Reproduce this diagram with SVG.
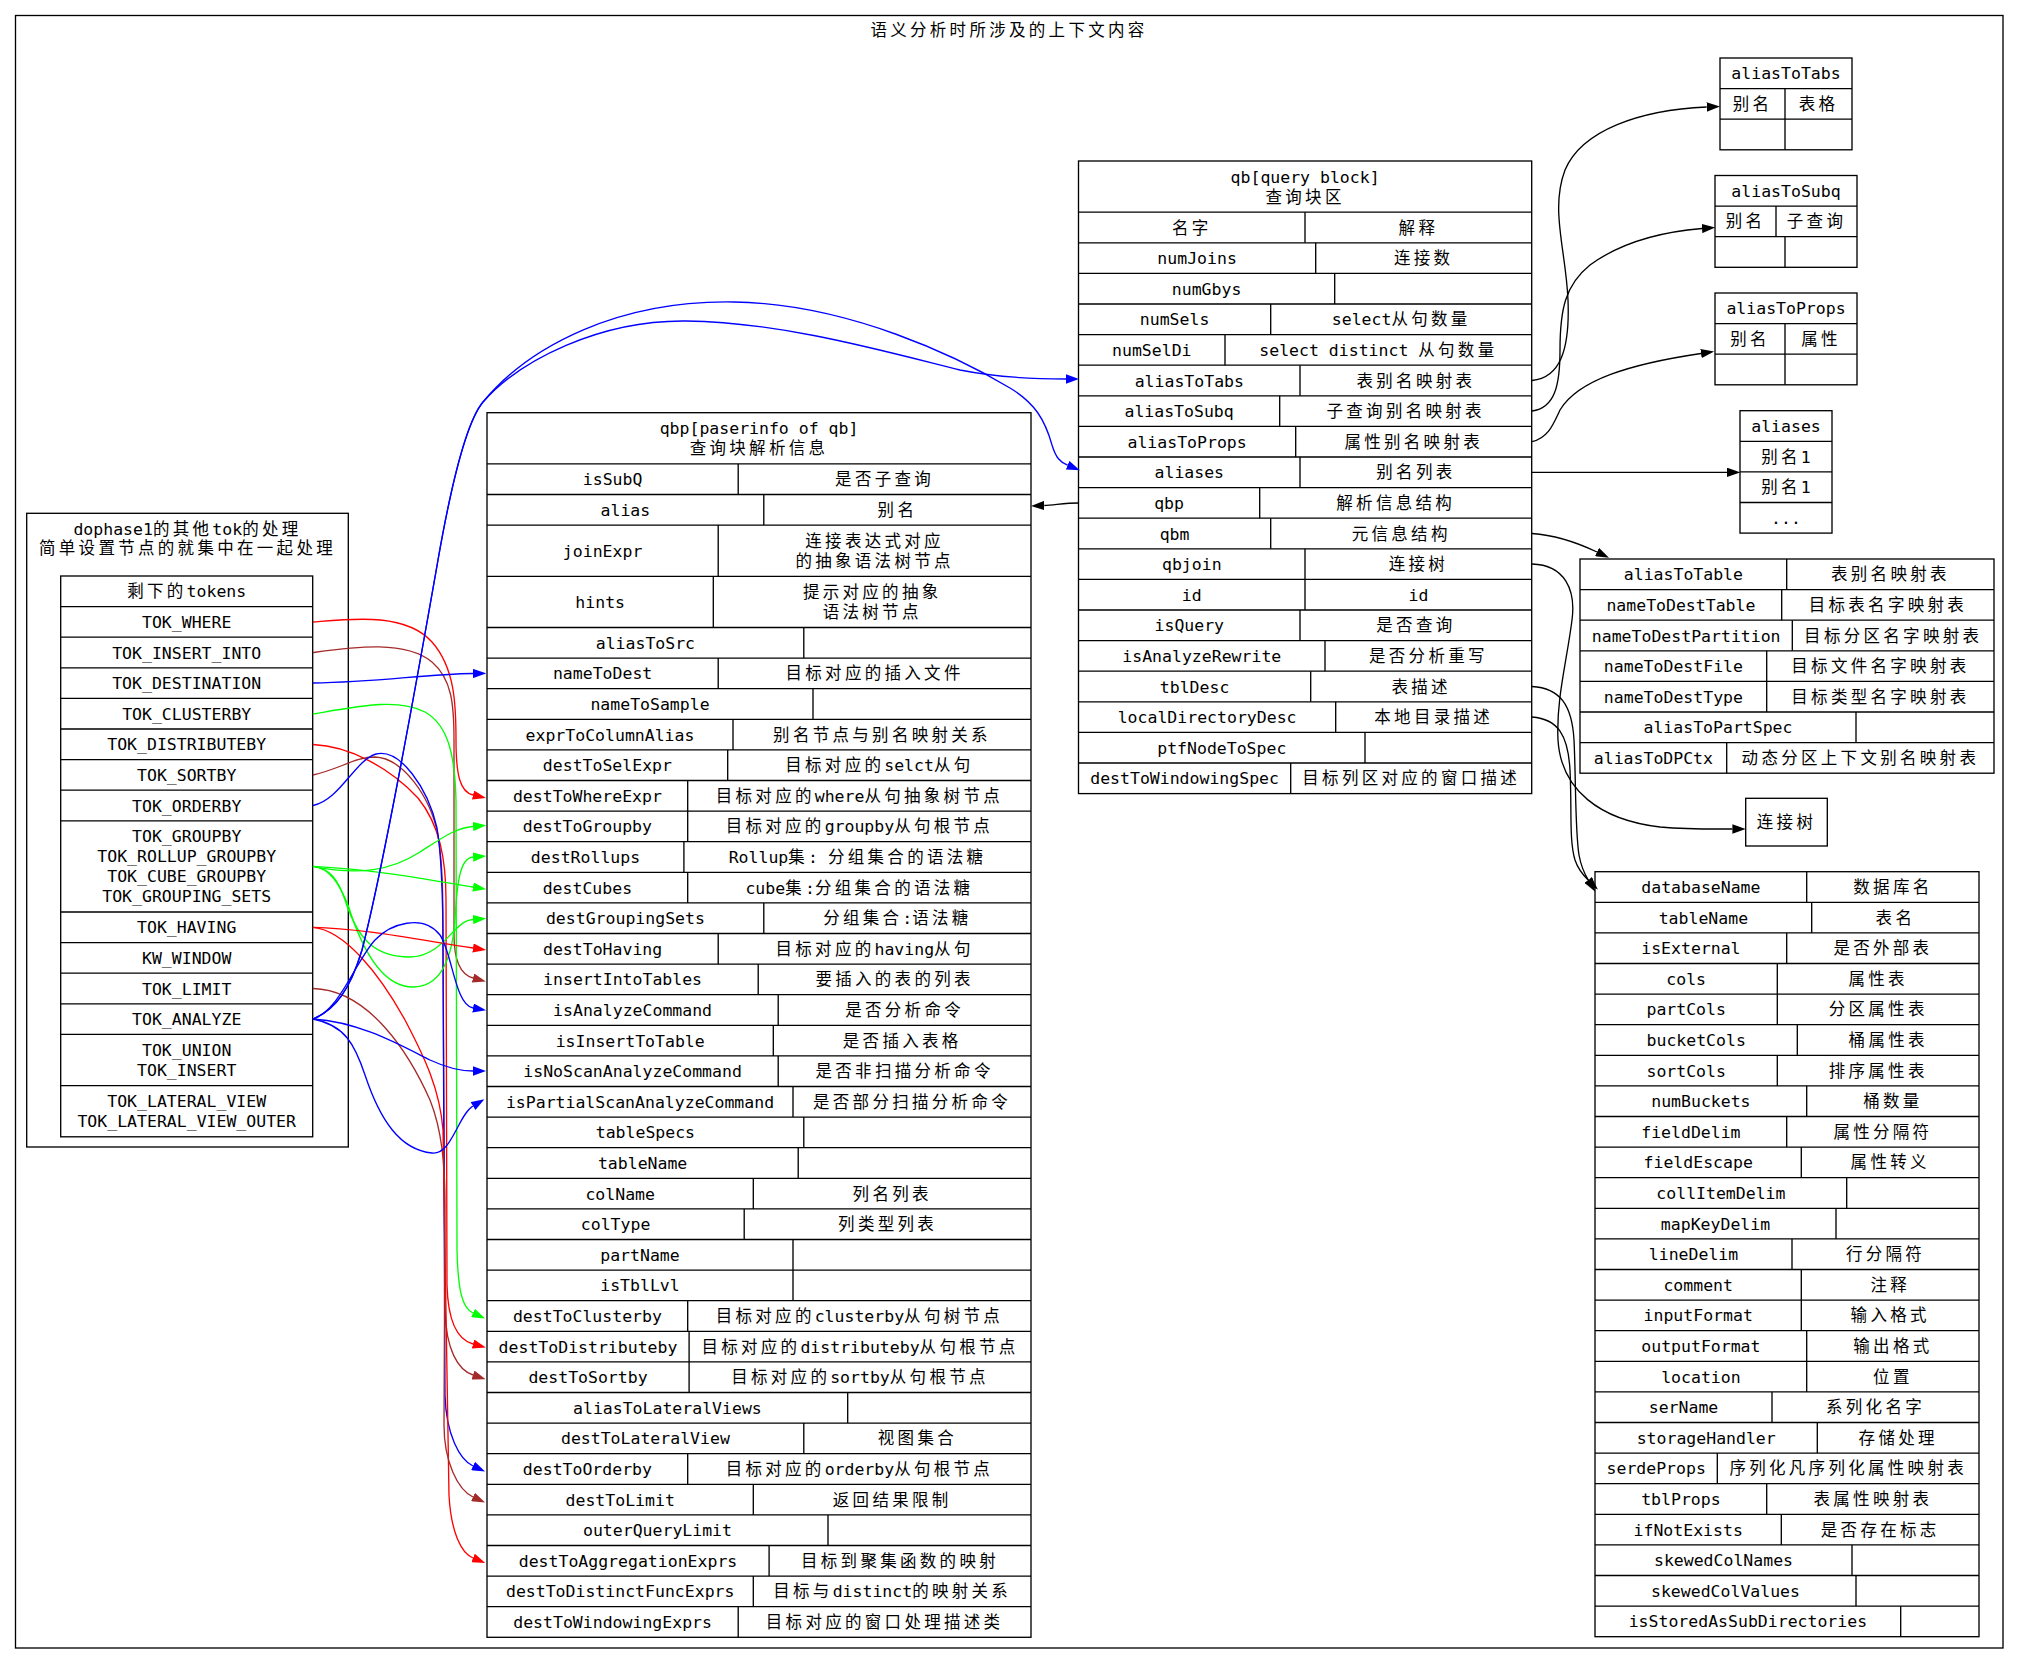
<svg xmlns="http://www.w3.org/2000/svg" width="2020" height="1665" viewBox="0 0 2020 1665">
<style>
text{font-family:"DejaVu Sans Mono","Noto Sans CJK SC",monospace;font-size:16.5px;text-anchor:middle;fill:#000}
.c{letter-spacing:3.3px}
.r{fill:none;stroke:#000;stroke-width:1.33}
.l{stroke:#000;stroke-width:1.33}
.e path{fill:none;stroke-width:1.33}
</style>
<defs>
<marker id="mk" viewBox="0 0 10 7" refX="0" refY="3.5" markerWidth="13.3" markerHeight="9.3" markerUnits="userSpaceOnUse" orient="auto"><path d="M0,0L10,3.5L0,7z" fill="#000"/></marker>
<marker id="mr" viewBox="0 0 10 7" refX="0" refY="3.5" markerWidth="13.3" markerHeight="9.3" markerUnits="userSpaceOnUse" orient="auto"><path d="M0,0L10,3.5L0,7z" fill="#ff0000"/></marker>
<marker id="mn" viewBox="0 0 10 7" refX="0" refY="3.5" markerWidth="13.3" markerHeight="9.3" markerUnits="userSpaceOnUse" orient="auto"><path d="M0,0L10,3.5L0,7z" fill="#a52a2a"/></marker>
<marker id="mb" viewBox="0 0 10 7" refX="0" refY="3.5" markerWidth="13.3" markerHeight="9.3" markerUnits="userSpaceOnUse" orient="auto"><path d="M0,0L10,3.5L0,7z" fill="#0000ff"/></marker>
<marker id="mg" viewBox="0 0 10 7" refX="0" refY="3.5" markerWidth="13.3" markerHeight="9.3" markerUnits="userSpaceOnUse" orient="auto"><path d="M0,0L10,3.5L0,7z" fill="#00ff00"/></marker>
</defs>
<rect width="2020" height="1665" fill="#fff"/>

<g id="cluster_main">
<rect x="15.5" y="15.5" width="1987.5" height="1632.5" class="r"/>
<text x="1009" y="35.5" class="c">语义分析时所涉及的上下文内容</text>
</g>

<g id="cluster_dophase">
<rect x="26.7" y="513.3" width="321.6" height="633.7" class="r"/>
<text x="187.5" y="535">dophase1<tspan class="c">的其他</tspan>tok<tspan class="c">的处理</tspan></text>
<text x="187.5" y="553.7" class="c">简单设置节点的就集中在一起处理</text>
</g>

<g id="tokens">
<rect x="60.7" y="576" width="252" height="560.8" class="r"/>
<path class="l" d="M60.7,606.6H312.7M60.7,637.2H312.7M60.7,667.8H312.7M60.7,698.4H312.7M60.7,729H312.7M60.7,759.6H312.7M60.7,790.2H312.7M60.7,820.8H312.7M60.7,912H312.7M60.7,942.6H312.7M60.7,973.2H312.7M60.7,1003.8H312.7M60.7,1034.4H312.7M60.7,1085.6H312.7"/>
<text x="186.7" y="597.3"><tspan class="c">剩下的</tspan>tokens</text>
<text x="186.7" y="627.9">TOK_WHERE</text>
<text x="186.7" y="658.5">TOK_INSERT_INTO</text>
<text x="186.7" y="689.1">TOK_DESTINATION</text>
<text x="186.7" y="719.7">TOK_CLUSTERBY</text>
<text x="186.7" y="750.3">TOK_DISTRIBUTEBY</text>
<text x="186.7" y="780.9">TOK_SORTBY</text>
<text x="186.7" y="811.5">TOK_ORDERBY</text>
<text x="186.7" y="842.4">TOK_GROUPBY</text>
<text x="186.7" y="862.4">TOK_ROLLUP_GROUPBY</text>
<text x="186.7" y="882.4">TOK_CUBE_GROUPBY</text>
<text x="186.7" y="902.4">TOK_GROUPING_SETS</text>
<text x="186.7" y="933.3">TOK_HAVING</text>
<text x="186.7" y="963.9">KW_WINDOW</text>
<text x="186.7" y="994.5">TOK_LIMIT</text>
<text x="186.7" y="1025.1">TOK_ANALYZE</text>
<text x="186.7" y="1056">TOK_UNION</text>
<text x="186.7" y="1076">TOK_INSERT</text>
<text x="186.7" y="1107.2">TOK_LATERAL_VIEW</text>
<text x="186.7" y="1127.2">TOK_LATERAL_VIEW_OUTER</text>
</g>

<g id="qbp">
<rect x="487" y="412.7" width="544" height="1224.6" class="r"/>
<path class="l" d="M487,463.9H1031M487,494.5H1031M487,525.1H1031M487,576.3H1031M487,627.5H1031M487,658.1H1031M487,688.7H1031M487,719.3H1031M487,749.9H1031M487,780.5H1031M487,811.1H1031M487,841.7H1031M487,872.3H1031M487,902.9H1031M487,933.5H1031M487,964.1H1031M487,994.7H1031M487,1025.3H1031M487,1055.9H1031M487,1086.5H1031M487,1117.1H1031M487,1147.7H1031M487,1178.3H1031M487,1208.9H1031M487,1239.5H1031M487,1270.1H1031M487,1300.7H1031M487,1331.3H1031M487,1361.9H1031M487,1392.5H1031M487,1423.1H1031M487,1453.7H1031M487,1484.3H1031M487,1514.9H1031M487,1545.5H1031M487,1576.1H1031M487,1606.7H1031"/>
<path class="l" d="M738.2,463.9V494.5M763.8,494.5V525.1M718.2,525.1V576.3M713.3,576.3V627.5M803.8,627.5V658.1M718.2,658.1V688.7M813,688.7V719.3M733,719.3V749.9M727.7,749.9V780.5M687.7,780.5V811.1M687.7,811.1V841.7M683.9,841.7V872.3M687.7,872.3V902.9M763.8,902.9V933.5M718.2,933.5V964.1M758.2,964.1V994.7M778.2,994.7V1025.3M773.3,1025.3V1055.9M778.2,1055.9V1086.5M793,1086.5V1117.1M803.8,1117.1V1147.7M798.2,1147.7V1178.3M753.3,1178.3V1208.9M744.2,1208.9V1239.5M793,1239.5V1270.1M793,1270.1V1300.7M687.7,1300.7V1331.3M689.1,1331.3V1361.9M689.1,1361.9V1392.5M847.7,1392.5V1423.1M803.8,1423.1V1453.7M687.7,1453.7V1484.3M753.3,1484.3V1514.9M828,1514.9V1545.5M769.1,1545.5V1576.1M753.3,1576.1V1606.7M738.2,1606.7V1637.3"/>
<text x="759" y="434.3">qbp[paserinfo of qb]</text>
<text x="759" y="454.3" class="c">查询块解析信息</text>
<text x="612.6" y="485.2">isSubQ</text><text x="884.6" y="485.2" class="c">是否子查询</text>
<text x="625.4" y="515.8">alias</text><text x="897.4" y="515.8" class="c">别名</text>
<text x="602.6" y="556.7">joinExpr</text><text x="874.6" y="546.7" class="c">连接表达式对应</text><text x="874.6" y="566.7" class="c">的抽象语法树节点</text>
<text x="600.2" y="607.9">hints</text><text x="872.2" y="597.9" class="c">提示对应的抽象</text><text x="872.2" y="617.9" class="c">语法树节点</text>
<text x="645.4" y="648.8">aliasToSrc</text>
<text x="602.6" y="679.4">nameToDest</text><text x="874.6" y="679.4" class="c">目标对应的插入文件</text>
<text x="650" y="710">nameToSample</text>
<text x="610" y="740.6">exprToColumnAlias</text><text x="882" y="740.6" class="c">别名节点与别名映射关系</text>
<text x="607.4" y="771.2">destToSelExpr</text><text x="879.4" y="771.2"><tspan class="c">目标对应的</tspan>selct<tspan class="c">从句</tspan></text>
<text x="587.4" y="801.8">destToWhereExpr</text><text x="859.4" y="801.8"><tspan class="c">目标对应的</tspan>where<tspan class="c">从句抽象树节点</tspan></text>
<text x="587.4" y="832.4">destToGroupby</text><text x="859.4" y="832.4"><tspan class="c">目标对应的</tspan>groupby<tspan class="c">从句根节点</tspan></text>
<text x="585.5" y="863">destRollups</text><text x="857.5" y="863">Rollup<tspan class="c">集</tspan>: <tspan class="c">分组集合的语法糖</tspan></text>
<text x="587.4" y="893.6">destCubes</text><text x="859.4" y="893.6">cube<tspan class="c">集</tspan>:<tspan class="c">分组集合的语法糖</tspan></text>
<text x="625.4" y="924.2">destGroupingSets</text><text x="897.4" y="924.2"><tspan class="c">分组集合</tspan>:<tspan class="c">语法糖</tspan></text>
<text x="602.6" y="954.8">destToHaving</text><text x="874.6" y="954.8"><tspan class="c">目标对应的</tspan>having<tspan class="c">从句</tspan></text>
<text x="622.6" y="985.4">insertIntoTables</text><text x="894.6" y="985.4" class="c">要插入的表的列表</text>
<text x="632.6" y="1016">isAnalyzeCommand</text><text x="904.6" y="1016" class="c">是否分析命令</text>
<text x="630.2" y="1046.6">isInsertToTable</text><text x="902.2" y="1046.6" class="c">是否插入表格</text>
<text x="632.6" y="1077.2">isNoScanAnalyzeCommand</text><text x="904.6" y="1077.2" class="c">是否非扫描分析命令</text>
<text x="640" y="1107.8">isPartialScanAnalyzeCommand</text><text x="912" y="1107.8" class="c">是否部分扫描分析命令</text>
<text x="645.4" y="1138.4">tableSpecs</text>
<text x="642.6" y="1169">tableName</text>
<text x="620.2" y="1199.6">colName</text><text x="892.2" y="1199.6" class="c">列名列表</text>
<text x="615.6" y="1230.2">colType</text><text x="887.6" y="1230.2" class="c">列类型列表</text>
<text x="640" y="1260.8">partName</text>
<text x="640" y="1291.4">isTblLvl</text>
<text x="587.4" y="1322">destToClusterby</text><text x="859.4" y="1322"><tspan class="c">目标对应的</tspan>clusterby<tspan class="c">从句树节点</tspan></text>
<text x="588" y="1352.6">destToDistributeby</text><text x="860" y="1352.6"><tspan class="c">目标对应的</tspan>distributeby<tspan class="c">从句根节点</tspan></text>
<text x="588" y="1383.2">destToSortby</text><text x="860" y="1383.2"><tspan class="c">目标对应的</tspan>sortby<tspan class="c">从句根节点</tspan></text>
<text x="667.4" y="1413.8">aliasToLateralViews</text>
<text x="645.4" y="1444.4">destToLateralView</text><text x="917.4" y="1444.4" class="c">视图集合</text>
<text x="587.4" y="1475">destToOrderby</text><text x="859.4" y="1475"><tspan class="c">目标对应的</tspan>orderby<tspan class="c">从句根节点</tspan></text>
<text x="620.2" y="1505.6">destToLimit</text><text x="892.2" y="1505.6" class="c">返回结果限制</text>
<text x="657.5" y="1536.2">outerQueryLimit</text>
<text x="628" y="1566.8">destToAggregationExprs</text><text x="900" y="1566.8" class="c">目标到聚集函数的映射</text>
<text x="620.2" y="1597.4">destToDistinctFuncExprs</text><text x="892.2" y="1597.4"><tspan class="c">目标与</tspan>distinct<tspan class="c">的映射关系</tspan></text>
<text x="612.6" y="1628">destToWindowingExprs</text><text x="884.6" y="1628" class="c">目标对应的窗口处理描述类</text>
</g>

<g id="qb">
<rect x="1078.5" y="161" width="453.2" height="632.6" class="r"/>
<path class="l" d="M1078.5,212.2H1531.7M1078.5,242.8H1531.7M1078.5,273.4H1531.7M1078.5,304H1531.7M1078.5,334.6H1531.7M1078.5,365.2H1531.7M1078.5,395.8H1531.7M1078.5,426.4H1531.7M1078.5,457H1531.7M1078.5,487.6H1531.7M1078.5,518.2H1531.7M1078.5,548.8H1531.7M1078.5,579.4H1531.7M1078.5,610H1531.7M1078.5,640.6H1531.7M1078.5,671.2H1531.7M1078.5,701.8H1531.7M1078.5,732.4H1531.7M1078.5,763H1531.7"/>
<path class="l" d="M1305,212.2V242.8M1315.7,242.8V273.4M1334.7,273.4V304M1270.7,304V334.6M1225,334.6V365.2M1300,365.2V395.8M1279.7,395.8V426.4M1295.7,426.4V457M1300,457V487.6M1259.7,487.6V518.2M1270.7,518.2V548.8M1305,548.8V579.4M1305,579.4V610M1300,610V640.6M1325,640.6V671.2M1310.7,671.2V701.8M1335.7,701.8V732.4M1365,732.4V763M1290.7,763V793.6"/>
<text x="1305.1" y="182.6">qb[query block]</text>
<text x="1305.1" y="202.6" class="c">查询块区</text>
<text x="1191.8" y="233.5" class="c">名字</text><text x="1418.4" y="233.5" class="c">解释</text>
<text x="1197.1" y="264.1">numJoins</text><text x="1423.7" y="264.1" class="c">连接数</text>
<text x="1206.6" y="294.7">numGbys</text>
<text x="1174.6" y="325.3">numSels</text><text x="1401.2" y="325.3">select<tspan class="c">从句数量</tspan></text>
<text x="1151.8" y="355.9">numSelDi</text><text x="1378.4" y="355.9">select distinct <tspan class="c">从句数量</tspan></text>
<text x="1189.3" y="386.5">aliasToTabs</text><text x="1415.9" y="386.5" class="c">表别名映射表</text>
<text x="1179.1" y="417.1">aliasToSubq</text><text x="1405.7" y="417.1" class="c">子查询别名映射表</text>
<text x="1187.1" y="447.7">aliasToProps</text><text x="1413.7" y="447.7" class="c">属性别名映射表</text>
<text x="1189.3" y="478.3">aliases</text><text x="1415.9" y="478.3" class="c">别名列表</text>
<text x="1169.1" y="508.9">qbp</text><text x="1395.7" y="508.9" class="c">解析信息结构</text>
<text x="1174.6" y="539.5">qbm</text><text x="1401.2" y="539.5" class="c">元信息结构</text>
<text x="1191.8" y="570.1">qbjoin</text><text x="1418.4" y="570.1" class="c">连接树</text>
<text x="1191.8" y="600.7">id</text><text x="1418.4" y="600.7">id</text>
<text x="1189.3" y="631.3">isQuery</text><text x="1415.9" y="631.3" class="c">是否查询</text>
<text x="1201.8" y="661.9">isAnalyzeRewrite</text><text x="1428.4" y="661.9" class="c">是否分析重写</text>
<text x="1194.6" y="692.5">tblDesc</text><text x="1421.2" y="692.5" class="c">表描述</text>
<text x="1207.1" y="723.1">localDirectoryDesc</text><text x="1433.7" y="723.1" class="c">本地目录描述</text>
<text x="1221.8" y="753.7">ptfNodeToSpec</text>
<text x="1184.6" y="784.3">destToWindowingSpec</text><text x="1411.2" y="784.3" class="c">目标列区对应的窗口描述</text>
</g>

<g id="aliasToTabs">
<rect x="1720" y="58" width="132" height="91.8" class="r"/>
<path class="l" d="M1720,88.6H1852M1720,119.2H1852M1785,88.6V149.8"/>
<text x="1786" y="79.3">aliasToTabs</text>
<text x="1752.5" y="109.9" class="c">别名</text><text x="1818.5" y="109.9" class="c">表格</text>
</g>

<g id="aliasToSubq">
<rect x="1715" y="175.5" width="142" height="91.8" class="r"/>
<path class="l" d="M1715,206.1H1857M1715,236.7H1857M1776,206.1V236.7M1785,236.7V267.3"/>
<text x="1786" y="196.8">aliasToSubq</text>
<text x="1745.5" y="227.4" class="c">别名</text><text x="1816.5" y="227.4" class="c">子查询</text>
</g>

<g id="aliasToProps">
<rect x="1715" y="293" width="142" height="91.8" class="r"/>
<path class="l" d="M1715,323.6H1857M1715,354.2H1857M1785,323.6V384.8"/>
<text x="1786" y="314.3">aliasToProps</text>
<text x="1750" y="344.9" class="c">别名</text><text x="1821" y="344.9" class="c">属性</text>
</g>

<g id="aliases">
<rect x="1740" y="410.7" width="92" height="122.4" class="r"/>
<path class="l" d="M1740,441.3H1832M1740,471.9H1832M1740,502.5H1832"/>
<text x="1786" y="432">aliases</text>
<text x="1786" y="462.6"><tspan class="c">别名</tspan>1</text>
<text x="1786" y="493.2"><tspan class="c">别名</tspan>1</text>
<text x="1786" y="523.8">...</text>
</g>

<g id="qbm">
<rect x="1580" y="559" width="414" height="214.2" class="r"/>
<path class="l" d="M1580,589.6H1994M1580,620.2H1994M1580,650.8H1994M1580,681.4H1994M1580,712H1994M1580,742.6H1994"/>
<path class="l" d="M1786.7,559V589.6M1781.7,589.6V620.2M1792.3,620.2V650.8M1766.7,650.8V681.4M1766.7,681.4V712M1856,712V742.6M1726.7,742.6V773.2"/>
<text x="1683.4" y="580.3">aliasToTable</text><text x="1890.4" y="580.3" class="c">表别名映射表</text>
<text x="1680.9" y="610.9">nameToDestTable</text><text x="1887.9" y="610.9" class="c">目标表名字映射表</text>
<text x="1686.2" y="641.5">nameToDestPartition</text><text x="1893.2" y="641.5" class="c">目标分区名字映射表</text>
<text x="1673.4" y="672.1">nameToDestFile</text><text x="1880.4" y="672.1" class="c">目标文件名字映射表</text>
<text x="1673.4" y="702.7">nameToDestType</text><text x="1880.4" y="702.7" class="c">目标类型名字映射表</text>
<text x="1718" y="733.3">aliasToPartSpec</text>
<text x="1653.4" y="763.9">aliasToDPCtx</text><text x="1860.4" y="763.9" class="c">动态分区上下文别名映射表</text>
</g>

<g id="qbjoin">
<rect x="1745.7" y="798.3" width="81.6" height="47.7" class="r"/>
<text x="1786.5" y="828.2" class="c">连接树</text>
</g>

<g id="tblDesc">
<rect x="1595" y="871.7" width="384" height="765" class="r"/>
<path class="l" d="M1595,902.3H1979M1595,932.9H1979M1595,963.5H1979M1595,994.1H1979M1595,1024.7H1979M1595,1055.3H1979M1595,1085.9H1979M1595,1116.5H1979M1595,1147.1H1979M1595,1177.7H1979M1595,1208.3H1979M1595,1238.9H1979M1595,1269.5H1979M1595,1300.1H1979M1595,1330.7H1979M1595,1361.3H1979M1595,1391.9H1979M1595,1422.5H1979M1595,1453.1H1979M1595,1483.7H1979M1595,1514.3H1979M1595,1544.9H1979M1595,1575.5H1979M1595,1606.1H1979"/>
<path class="l" d="M1806.7,871.7V902.3M1811.7,902.3V932.9M1786.7,932.9V963.5M1777.3,963.5V994.1M1777.3,994.1V1024.7M1797.3,1024.7V1055.3M1777.3,1055.3V1085.9M1806.7,1085.9V1116.5M1786.7,1116.5V1147.1M1801.3,1147.1V1177.7M1846.7,1177.7V1208.3M1836,1208.3V1238.9M1792,1238.9V1269.5M1801.3,1269.5V1300.1M1801.3,1300.1V1330.7M1806.7,1330.7V1361.3M1806.7,1361.3V1391.9M1772,1391.9V1422.5M1817.3,1422.5V1453.1M1717.3,1453.1V1483.7M1766.7,1483.7V1514.3M1781.3,1514.3V1544.9M1852,1544.9V1575.5M1856,1575.5V1606.1M1900.7,1606.1V1636.7"/>
<text x="1700.9" y="893">databaseName</text><text x="1892.9" y="893" class="c">数据库名</text>
<text x="1703.4" y="923.6">tableName</text><text x="1895.4" y="923.6" class="c">表名</text>
<text x="1690.9" y="954.2">isExternal</text><text x="1882.9" y="954.2" class="c">是否外部表</text>
<text x="1686.2" y="984.8">cols</text><text x="1878.2" y="984.8" class="c">属性表</text>
<text x="1686.2" y="1015.4">partCols</text><text x="1878.2" y="1015.4" class="c">分区属性表</text>
<text x="1696.2" y="1046">bucketCols</text><text x="1888.2" y="1046" class="c">桶属性表</text>
<text x="1686.2" y="1076.6">sortCols</text><text x="1878.2" y="1076.6" class="c">排序属性表</text>
<text x="1700.9" y="1107.2">numBuckets</text><text x="1892.9" y="1107.2" class="c">桶数量</text>
<text x="1690.9" y="1137.8">fieldDelim</text><text x="1882.9" y="1137.8" class="c">属性分隔符</text>
<text x="1698.2" y="1168.4">fieldEscape</text><text x="1890.2" y="1168.4" class="c">属性转义</text>
<text x="1720.9" y="1199">collItemDelim</text>
<text x="1715.5" y="1229.6">mapKeyDelim</text>
<text x="1693.5" y="1260.2">lineDelim</text><text x="1885.5" y="1260.2" class="c">行分隔符</text>
<text x="1698.2" y="1290.8">comment</text><text x="1890.2" y="1290.8" class="c">注释</text>
<text x="1698.2" y="1321.4">inputFormat</text><text x="1890.2" y="1321.4" class="c">输入格式</text>
<text x="1700.9" y="1352">outputFormat</text><text x="1892.9" y="1352" class="c">输出格式</text>
<text x="1700.9" y="1382.6">location</text><text x="1892.9" y="1382.6" class="c">位置</text>
<text x="1683.5" y="1413.2">serName</text><text x="1875.5" y="1413.2" class="c">系列化名字</text>
<text x="1706.2" y="1443.8">storageHandler</text><text x="1898.2" y="1443.8" class="c">存储处理</text>
<text x="1656.2" y="1474.4">serdeProps</text><text x="1848.2" y="1474.4" class="c">序列化凡序列化属性映射表</text>
<text x="1680.9" y="1505">tblProps</text><text x="1872.9" y="1505" class="c">表属性映射表</text>
<text x="1688.2" y="1535.6">ifNotExists</text><text x="1880.2" y="1535.6" class="c">是否存在标志</text>
<text x="1723.5" y="1566.2">skewedColNames</text>
<text x="1725.5" y="1596.8">skewedColValues</text>
<text x="1747.9" y="1627.4">isStoredAsSubDirectories</text>
</g>

<g id="connectors" class="e">
<path stroke="#ff0000" marker-end="url(#mr)" d="M313,622 C350,619 405,612 432,642 C455,668 456,705 456,740 C456,775 460,792 473,795"/>
<path stroke="#a52a2a" marker-end="url(#mn)" d="M313,652.5 C355,647 405,640 432,662 C452,679 454,705 454,740 L454,935 C454,962 462,975 473,978"/>
<path stroke="#0000ff" marker-end="url(#mb)" d="M313,683 C380,682 425,674 473,673.5"/>
<path stroke="#00ff00" marker-end="url(#mg)" d="M313,714 C360,706 398,698 425,712 C450,726 455,760 456,800 L457,1250 C458,1290 462,1308 473,1313"/>
<path stroke="#ff0000" marker-end="url(#mr)" d="M313,744.5 C350,746 390,768 418,798 C440,825 446,860 446,900 L447,1285 C448,1322 458,1340 473,1344"/>
<path stroke="#a52a2a" marker-end="url(#mn)" d="M313,775 C340,769 355,757 375,757 C402,758 430,795 438,835 C443,865 443,900 443,940 L445,1310 C446,1350 458,1370 473,1375"/>
<path stroke="#0000ff" marker-end="url(#mb)" d="M313,805.5 C340,800 355,760 376,754 C400,748 428,788 437,828 C442,858 443,900 443,950 L445,1395 C446,1435 460,1460 473,1466"/>
<path stroke="#00ff00" marker-end="url(#mg)" d="M313,866.4 C360,876 392,870 420,852 C445,836 456,828 473,826.5"/>
<path stroke="#00ff00" marker-end="url(#mg)" d="M313,866.4 C380,870 430,880 473,887"/>
<path stroke="#00ff00" marker-end="url(#mg)" d="M313,866.4 C330,868 340,885 348,905 C362,950 382,987 413,987 C440,987 452,960 455,920 C457,882 460,858 473,857"/>
<path stroke="#00ff00" marker-end="url(#mg)" d="M313,866.4 C330,868 338,880 345,900 C358,940 375,957 410,957 C432,957 445,940 455,930 C462,923 466,920 473,919.5"/>
<path stroke="#ff0000" marker-end="url(#mr)" d="M313,927.3 C360,928 420,940 473,948"/>
<path stroke="#ff0000" marker-end="url(#mr)" d="M313,927.3 C345,930 380,975 405,1020 C425,1058 440,1090 443,1130 L449,1495 C451,1532 461,1553 473,1558"/>
<path stroke="#a52a2a" marker-end="url(#mn)" d="M313,988.5 C370,990 410,1055 430,1100 C442,1130 445,1165 445,1205 L444,1425 C444,1462 458,1490 473,1497"/>
<path stroke="#0000ff" marker-end="url(#mb)" d="M313,1019 C340,1010 355,962 375,940 C390,924 423,913 440,935 C452,952 455,1005 473,1008"/>
<path stroke="#0000ff" marker-end="url(#mb)" d="M313,1019 C360,1022 400,1045 430,1060 C445,1067 460,1071 473,1071"/>
<path stroke="#0000ff" marker-end="url(#mb)" d="M313,1019 C345,1025 355,1045 365,1075 C380,1120 400,1150 432,1153 C452,1155 458,1115 473,1106"/>
<path stroke="#0000ff" marker-end="url(#mb)" d="M313,1019 C335,1010 350,990 362,950 C380,880 410,720 438,560 C452,480 468,420 483,402 C520,360 600,320 686,321 C780,322 880,350 960,370 C1000,378 1040,379 1066,379"/>
<path stroke="#0000ff" marker-end="url(#mb)" d="M313,1019 C335,1010 350,990 362,950 C380,880 410,720 438,560 C452,480 468,420 483,402 C530,345 620,300 734,302 C850,304 960,358 1010,388 C1035,403 1045,420 1052,445 C1056,458 1060,462 1067.6,465.2"/>
<path stroke="#000" marker-end="url(#mk)" d="M1532,380.5 C1560,378 1570,350 1568,300 C1566,250 1550,210 1565,170 C1582,130 1640,110 1706.7,107"/>
<path stroke="#000" marker-end="url(#mk)" d="M1532,411 C1555,408 1560,385 1560,350 C1560,310 1565,285 1590,265 C1620,243 1660,232 1702,228.5"/>
<path stroke="#000" marker-end="url(#mk)" d="M1532,441.7 C1548,438 1553,425 1560,410 C1578,380 1630,364 1701,353.5"/>
<path stroke="#000" marker-end="url(#mk)" d="M1532,472.3 L1727,472.3"/>
<path stroke="#000" marker-end="url(#mk)" d="M1078.5,503 C1065,503 1055,505 1044.3,505.5"/>
<path stroke="#000" marker-end="url(#mk)" d="M1532,533.5 C1555,535 1578,543 1597,552"/>
<path stroke="#000" marker-end="url(#mk)" d="M1532,564 C1565,565 1576,590 1572,620 C1567,660 1556,700 1558,740 C1561,790 1600,820 1660,827 C1690,829.5 1710,829 1732.4,829"/>
<path stroke="#000" marker-end="url(#mk)" d="M1532,686.5 C1560,688 1572,705 1574,740 C1576,780 1575,830 1579,855 C1581,866 1584,873 1588.4,880.3"/>
<path stroke="#000" marker-end="url(#mk)" d="M1532,717 C1558,719 1568,735 1570,770 C1572,810 1569,840 1575,860 C1578,869 1583,875 1588.4,880.3"/>
</g>
</svg>
